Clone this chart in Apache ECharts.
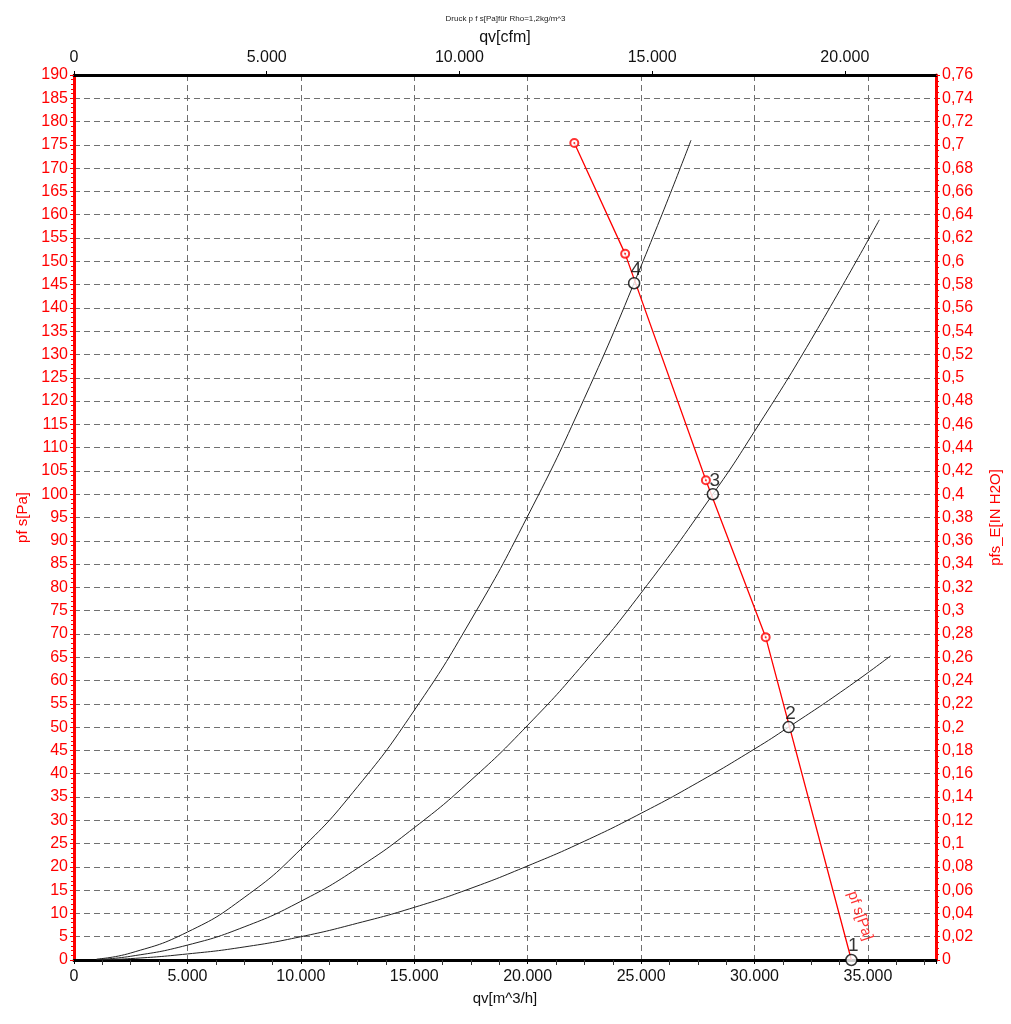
<!DOCTYPE html>
<html><head><meta charset="utf-8">
<script src="https://cdn.jsdelivr.net/npm/echarts@6/dist/echarts.min.js"></script>
<style>html,body{margin:0;padding:0;background:#fff}#c{width:1011px;height:1024px}</style>
</head><body><div id="c"></div>
<script>
// System curves (qv m^3/h, pfs Pa)
const sysCurve4 = [[1000,0.2],[2500,1.5],[5000,6.0],[7500,13.4],[10000,23.8],[12500,37.2],[15000,53.6],[17500,73.0],[20000,95.3],[22500,120.6],[25000,149.0],[27200,176.0]];
const sysCurve3 = [[1000,0.1],[2500,0.8],[5000,3.2],[7500,7.1],[10000,12.6],[12500,19.7],[15000,28.4],[17500,38.6],[20000,50.4],[22500,63.8],[25000,78.8],[28163,100.0],[30000,113.5],[32500,133.2],[35500,158.9]];
const sysCurve2 = [[1000,0.05],[2500,0.3],[5000,1.3],[7500,2.8],[10000,5.0],[12500,7.9],[15000,11.3],[17500,15.4],[20000,20.2],[22500,25.5],[25000,31.5],[27500,38.1],[30000,45.3],[31503,50.0],[34000,58.2],[36000,65.3]];
// Fan curve (red)
const fanCurve = [[22056,175.4],[24297,151.6],[27856,103.0],[30492,69.3],[34270,0]];
const fanMarkers = [[22056,175.4],[24297,151.6],[27856,103.0],[30492,69.3]];
// Operating points
const opPoints = [[34270,0],[31503,50.0],[28163,100.0],[24692,145.3]];
const opLabels = ['1','2','3','4'];
const fanLabelPos = [[34650,9.5]];
const fanLabelText = 'pf s[Pa]';
const qMax = 38000, cfmFactor = 0.588578;
const pMax = 190, inH2OMax = 0.76;

const RED = '#ff0000';
const FONT = 'Liberation Sans';
function thousands(v){ return String(Math.round(v)).replace(/\B(?=(\d{3})+(?!\d))/g,'.'); }

const chart = echarts.init(document.getElementById('c'), null, {renderer:'canvas'});
const dash = {type:[6,4], color:'#707070', width:1};
chart.setOption({
  animation:false,
  backgroundColor:'#fff',
  textStyle:{fontFamily:FONT},
  title:{text:'Druck p f s[Pa]für Rho=1,2kg/m^3', left:'center', top:10,
    textStyle:{fontSize:8, fontWeight:'normal', color:'#222', fontFamily:FONT}},
  grid:{left:74, right:69, top:75, bottom:64},
  xAxis:[
    {type:'value', position:'bottom', min:0, max:qMax, interval:5000,
     name:'qv[m^3/h]', nameLocation:'middle', nameGap:31,
     nameTextStyle:{fontSize:15, color:'#111', fontFamily:FONT},
     axisLine:{onZero:false, lineStyle:{color:'#000', width:3}},
     axisTick:{show:true, length:4, lineStyle:{color:'#000'}},
     minorTick:{show:true, splitNumber:4, length:5, lineStyle:{color:'#333'}},
     axisLabel:{fontSize:16, color:'#111', margin:9, showMaxLabel:false, formatter:thousands, fontFamily:FONT},
     splitLine:{show:true, lineStyle:dash}},
    {type:'value', position:'top', min:0, max:qMax*cfmFactor, interval:5000,
     name:'qv[cfm]', nameLocation:'middle', nameGap:26,
     nameTextStyle:{fontSize:16, color:'#111', fontFamily:FONT},
     axisLine:{onZero:false, lineStyle:{color:'#000', width:3}},
     axisTick:{show:true, length:4, lineStyle:{color:'#000'}},
     axisLabel:{fontSize:16, color:'#111', margin:9, showMaxLabel:false, formatter:thousands, fontFamily:FONT},
     splitLine:{show:false}}
  ],
  yAxis:[
    {type:'value', position:'left', min:0, max:pMax, interval:5,
     name:'pf s[Pa]', nameLocation:'middle', nameGap:44,
     nameTextStyle:{fontSize:15, color:RED, fontFamily:FONT},
     axisLine:{show:true, onZero:false, lineStyle:{color:RED, width:3}},
     axisTick:{show:true, length:4, lineStyle:{color:RED}},
     minorTick:{show:true, splitNumber:5, length:3, lineStyle:{color:RED}},
     axisLabel:{fontSize:16, color:RED, margin:6, interval:0, fontFamily:FONT},
     splitLine:{show:true, lineStyle:dash}},
    {type:'value', position:'right', min:0, max:inH2OMax, interval:0.02,
     name:'pfs_E[IN H2O]', nameLocation:'middle', nameGap:52,
     nameTextStyle:{fontSize:15, color:RED, fontFamily:FONT},
     axisLine:{show:true, onZero:false, lineStyle:{color:RED, width:3}},
     axisTick:{show:true, length:4, lineStyle:{color:RED}},
     minorTick:{show:true, splitNumber:4, length:3, lineStyle:{color:RED}},
     axisLabel:{fontSize:16, color:RED, margin:6, interval:0, fontFamily:FONT,
       formatter:v=>String(Number(v.toFixed(2))).replace('.',',')},
     splitLine:{show:false}}
  ],
  series:[
    {type:'line', data:sysCurve4, smooth:true, showSymbol:false, symbol:'none', lineStyle:{color:'#222', width:1}, z:3},
    {type:'line', data:sysCurve3, smooth:true, showSymbol:false, symbol:'none', lineStyle:{color:'#222', width:1}, z:3},
    {type:'line', data:sysCurve2, smooth:true, showSymbol:false, symbol:'none', lineStyle:{color:'#222', width:1}, z:3},
    {type:'line', data:fanCurve, smooth:false, symbol:'none', lineStyle:{color:RED, width:1.3}, z:4},
    {type:'scatter', data:fanMarkers, symbol:'emptyCircle', symbolSize:8, itemStyle:{color:RED, borderColor:RED, borderWidth:1.5}, z:5},
    {type:'scatter', data:fanMarkers, symbol:'circle', symbolSize:2, itemStyle:{color:RED}, z:6},
    {type:'scatter', data:opPoints.map((p,i)=>({value:p, label:{formatter:opLabels[i]}})),
     symbol:'circle', symbolSize:11, itemStyle:{color:'#fff', borderColor:'#000', borderWidth:1.5}, z:7,
     label:{show:true, position:'top', distance:-2, offset:[2,0], fontSize:19, color:'#000', fontFamily:FONT}},
    {type:'scatter', data:fanLabelPos, symbol:'circle', symbolSize:1, itemStyle:{color:'rgba(0,0,0,0)'}, z:8,
     label:{show:true, position:'inside', formatter:fanLabelText, rotate:-71, fontSize:15, color:RED, fontFamily:FONT}}
  ]
});
</script>
</body></html>
